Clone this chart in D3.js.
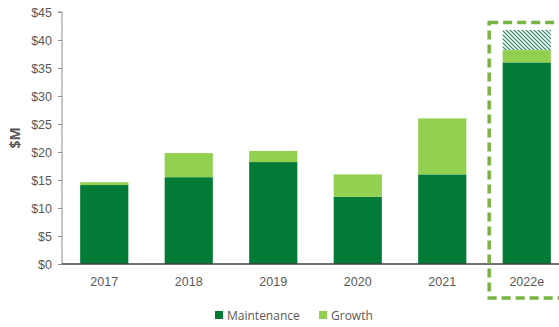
<!DOCTYPE html>
<html>
<head>
<meta charset="utf-8">
<script src="https://cdn.jsdelivr.net/npm/d3@7"></script>
<style>
  html, body { margin: 0; padding: 0; background: #fff; }
  svg { display: block; font-family: "Open Sans", "Liberation Sans", sans-serif; }
</style>
</head>
<body>
<svg id="chart" width="559" height="327"></svg>
<script>
const categories = ["2017", "2018", "2019", "2020", "2021", "2022e"];
const maintenance = [14.1, 15.5, 18.2, 12.0, 16.0, 36.0];
const growth = [0.5, 4.3, 2.0, 4.0, 10.0, 2.2];
const upside = [0, 0, 0, 0, 0, 3.6];
const yTicks = [0, 5, 10, 15, 20, 25, 30, 35, 40, 45];
const seriesNames = ["Maintenance", "Growth"];
const colors = { maintenance: "#027b36", growth: "#92d050", hatch: "#1f8a5a", box: "#77b543", text: "#595959" };

const svg = d3.select("#chart");
const x = d3.scaleBand().domain(categories).range([62, 569]).paddingInner(0.43).paddingOuter(0.215);
const y = d3.scaleLinear().domain([0, 45]).range([264, 12]);

// hatch pattern
const defs = svg.append("defs");
const pat = defs.append("pattern").attr("id", "hatch").attr("patternUnits", "userSpaceOnUse")
  .attr("width", 4).attr("height", 4);
pat.append("rect").attr("width", 4).attr("height", 4).attr("fill", "#fff");
pat.append("path").attr("d", "M0,0 L4,4 M-1,3 L1,5 M3,-1 L5,1")
  .attr("stroke", colors.hatch).attr("stroke-width", 1.2);

const data = categories.map((c, i) => ({ c, m: maintenance[i], g: growth[i], u: upside[i] }));

// bars
const g = svg.append("g");
g.selectAll("rect.m").data(data).join("rect").attr("class", "m")
  .attr("x", d => x(d.c)).attr("width", x.bandwidth())
  .attr("y", d => y(d.m)).attr("height", d => y(0) - y(d.m))
  .attr("fill", colors.maintenance);
g.selectAll("rect.g").data(data).join("rect").attr("class", "g")
  .attr("x", d => x(d.c)).attr("width", x.bandwidth())
  .attr("y", d => y(d.m + d.g)).attr("height", d => y(d.m) - y(d.m + d.g))
  .attr("fill", colors.growth);
g.selectAll("rect.u").data(data.filter(d => d.u > 0)).join("rect").attr("class", "u")
  .attr("x", d => x(d.c)).attr("width", x.bandwidth())
  .attr("y", d => y(d.m + d.g + d.u)).attr("height", d => y(d.m + d.g) - y(d.m + d.g + d.u))
  .attr("fill", "url(#hatch)");

// y axis
const yAxis = d3.axisLeft(y).tickValues(yTicks).tickFormat(d => "$" + d).tickSize(4).tickPadding(6);
const ya = svg.append("g").attr("transform", "translate(62,0)").call(yAxis);
ya.select(".domain").attr("stroke", "#8c8c8c").attr("d", `M-4,${y(45)}H0V${y(0)}`);
ya.selectAll(".tick line").attr("stroke", "#8c8c8c");
ya.selectAll(".tick text").attr("fill", colors.text).style("font-size", "12.5px");

// x axis
const xAxis = d3.axisBottom(x).tickSize(0).tickPadding(13);
const xa = svg.append("g").attr("transform", `translate(0,${y(0)})`).call(xAxis);
xa.select(".domain").attr("stroke", "#404040").attr("stroke-width", 1.3).attr("d", `M62,0H559`);
xa.selectAll(".tick text").attr("fill", colors.text).style("font-size", "12.5px");

// y title
svg.append("text").attr("transform", "translate(20,138) rotate(-90)")
  .attr("text-anchor", "middle").attr("fill", colors.text)
  .style("font-size", "14px").style("font-weight", "bold").text("$M");

// dashed highlight box around estimate
const lastC = categories[categories.length - 1];
const bx = x(lastC) - 13.5;
svg.append("rect").attr("x", bx).attr("y", 22.5).attr("width", 90).attr("height", 275.5)
  .attr("fill", "none").attr("stroke", colors.box).attr("stroke-width", 3.5)
  .attr("stroke-dasharray", "9,5");

// legend
const legend = svg.append("g").attr("transform", "translate(215,0)");
const items = [{ n: seriesNames[0], col: colors.maintenance, x: 0 }, { n: seriesNames[1], col: colors.growth, x: 104 }];
items.forEach(it => {
  legend.append("rect").attr("x", it.x).attr("y", 311).attr("width", 8).attr("height", 8).attr("fill", it.col);
  legend.append("text").attr("x", it.x + 12).attr("y", 319.5).attr("fill", colors.text)
    .style("font-size", "12px").text(it.n);
});
</script>
</body>
</html>
